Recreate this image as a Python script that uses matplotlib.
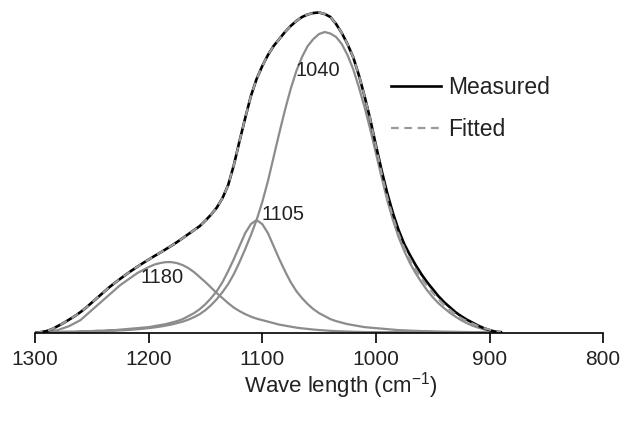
import numpy as np
import matplotlib
matplotlib.use("Agg")
from matplotlib import pyplot as plt

# wave numbers (cm-1), one sample every 5 units, 1300 -> 890
wave = np.arange(1300, 885, -5)

# intensities (arbitrary units)
measured = [0.3, 1, 2, 4, 7, 10, 13.5, 17, 21, 25.5, 30.5, 35.5, 40.5, 45.5, 50, 54.3,
            58.5, 62.5, 66.3, 70, 73.5, 77, 80.3, 83.8, 87.3, 91, 95, 99, 103, 107,
            112.5, 118.5, 125.5, 135, 148, 168, 192, 215, 237, 254, 267, 278, 287, 294,
            301, 307, 312, 316, 318.5, 320, 320.5, 319, 316, 309, 300, 289, 276, 258,
            237, 214, 188, 163, 140, 120, 103, 89, 78, 68, 59, 51, 44, 37, 31, 26, 21,
            17, 13.5, 10.5, 7.5, 5, 3, 1.5, 1]
fitted = [0.3, 1, 2, 4, 7, 10, 13.5, 17, 21, 25.5, 30.5, 35.5, 40.5, 45.5, 50, 54.3,
          58.5, 62.5, 66.3, 70, 73.5, 77, 80.3, 83.8, 87.3, 91, 95, 99, 103, 107,
          112.5, 118.5, 125.5, 135, 148, 168, 192, 215, 237, 254, 267, 278, 287, 294,
          301, 307, 312, 316, 318.5, 320, 320.5, 319, 316, 309, 300, 289, 276, 258,
          237, 214, 187, 160, 136, 116, 99, 85, 74, 64, 55, 47.5, 40.5, 34, 28.5, 23.5, 19,
          15, 12, 9.5, 7, 5, 3.5, 2, 1.2]
peak1180 = [0.3, 0.6, 1, 2, 3, 5, 7, 10, 13, 18, 23, 28, 33, 38, 43, 48,
            52, 56, 60, 63, 66, 68.5, 70, 71, 71, 70, 68, 65, 61, 56,
            51, 45.5, 40, 35, 30, 25.5, 22, 19, 16.5, 14.5, 13, 11.5, 10, 8.5,
            7.5, 6.5, 5.5, 4.8, 4.2, 3.6, 3.1, 2.7, 2.3, 2, 1.8, 1.6, 1.4, 1.2,
            1.1, 1, 1, 1, 1, 1, 1, 1, 1, 1, 1, 1, 1, 1, 1, 1, 1,
            1, 1, 1, 1, 1, 1, 1, 1]
peak1105 = [0.8, 0.9, 1, 1, 1, 1.5, 1.5, 1.5, 2, 2, 2, 2.5, 2.5, 3, 3, 3.5,
            4, 4.5, 5, 5.5, 6, 7, 8, 9, 10.5, 12, 14, 17, 20, 24,
            29, 35, 42, 51, 62, 74, 87, 100, 109, 113, 109, 100, 87, 74,
            62, 51, 42, 35, 29, 24, 20, 17, 14, 12, 10.5, 9, 8, 7,
            6, 5.5, 5, 4.5, 4, 3.5, 3, 2.8, 2.5, 2.3, 2, 2, 1.8, 1.6, 1.5, 1.4, 1.3,
            1.2, 1.1, 1, 1, 1, 1, 1, 1]
peak1040 = [0.5, 0.6, 0.7, 0.8, 0.9, 1.0, 1.1, 1.2, 1.3, 1.4, 1.5, 1.7, 1.9, 2.1, 2.4, 2.7,
            3.0, 3.4, 3.9, 4.4, 5.0, 5.7, 6.5, 7.5, 8.6, 10, 11.5, 13.5, 16, 19,
            23, 28, 34, 41, 49, 59, 71, 84, 98, 113, 131, 152, 176, 200,
            223, 244, 262, 276, 287, 294, 299, 301, 299.5, 296, 289, 278, 264, 246,
            226, 204, 180, 156, 133, 113, 96, 82, 70, 60, 51, 43, 36, 30, 25, 20.5, 16.5,
            13, 10, 7.5, 5.5, 3.8, 2.5, 1.5, 0.8]

peak_labels = ["1180", "1105", "1040"]

plt.rcParams['font.family'] = ['Liberation Sans', 'DejaVu Sans']

fig = plt.figure(figsize=(6.25, 4.26), dpi=100)
ax = fig.add_axes([0.056, 0.218, 0.909, 0.782])

comp_color = '#8c8c8c'
for comp in [peak1180, peak1105, peak1040]:
    ax.plot(wave, comp, color=comp_color, lw=1.6, solid_capstyle='round')

ax.plot(wave, measured, color='black', lw=1.9, label='Measured')
ax.plot(wave, fitted, color='#9a9a9a', lw=1.6, dashes=(3.5, 2.5), label='Fitted')

# peak labels
ax.text(1188, 56, peak_labels[0], fontsize=14.5, ha='center', va='center', color='#222222')
ax.text(1082, 119, peak_labels[1], fontsize=14.5, ha='center', va='center', color='#222222')
ax.text(1051, 263, peak_labels[2], fontsize=14.5, ha='center', va='center', color='#222222')

ax.set_xlim(1300, 800)
ax.set_ylim(0, 333)
ax.set_xticks([1300, 1200, 1100, 1000, 900, 800])
ax.set_yticks([])
for s in ['top', 'right', 'left']:
    ax.spines[s].set_visible(False)
ax.spines['bottom'].set_linewidth(1.2)
ax.tick_params(axis='x', direction='out', length=7, width=1.2, pad=5, labelsize=15, labelcolor='#222222')
ax.set_xlabel('Wave length (cm$^{\\mathregular{-1}}$)', fontsize=16, color='#222222')
ax.xaxis.set_label_coords(0.539, -0.11)

leg = ax.legend(loc='upper left', bbox_to_anchor=(0.59, 0.835), frameon=False, fontsize=16.5,
                handlelength=2.2, handletextpad=0.3, labelspacing=0.85)
for t in leg.get_texts():
    t.set_color('#222222')

fig.savefig('out.png', dpi=100)
